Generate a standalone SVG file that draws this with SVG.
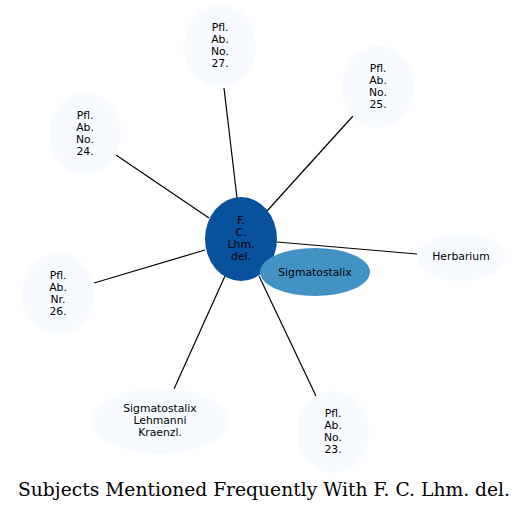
<svg xmlns="http://www.w3.org/2000/svg" width="528" height="511" viewBox="0 0 528 511">
<style>
.n text{font-family:"DejaVu Sans",sans-serif;font-size:10.8px;text-anchor:middle;fill:#000}
.leaf ellipse{fill:#f7fbff}
#edges line{stroke:#000;stroke-width:1.2}
.title{font-family:"DejaVu Serif",serif;font-size:18.7px;text-anchor:middle;fill:#000}
</style>
<rect width="528" height="511" fill="#fff"/>
<g id="edges">
<line x1="237" y1="198" x2="224" y2="88"/>
<line x1="267" y1="211" x2="353" y2="116"/>
<line x1="209" y1="218" x2="116" y2="155"/>
<line x1="277" y1="242" x2="417" y2="254"/>
<line x1="205" y1="250" x2="94" y2="283"/>
<line x1="225" y1="276" x2="174" y2="389"/>
<line x1="259" y1="276" x2="316" y2="396"/>
</g>
<g id="n27" class="n leaf"><ellipse cx="220" cy="46" rx="36" ry="41"/><text x="220" y="31">Pfl.</text><text x="220" y="43">Ab.</text><text x="220" y="55">No.</text><text x="220" y="67">27.</text></g>
<g id="n25" class="n leaf"><ellipse cx="378" cy="87" rx="36" ry="41"/><text x="378" y="72">Pfl.</text><text x="378" y="84">Ab.</text><text x="378" y="96">No.</text><text x="378" y="108">25.</text></g>
<g id="n24" class="n leaf"><ellipse cx="85" cy="134" rx="36" ry="41"/><text x="85" y="119">Pfl.</text><text x="85" y="131">Ab.</text><text x="85" y="143">No.</text><text x="85" y="155">24.</text></g>
<g id="nherb" class="n leaf"><ellipse cx="461" cy="257" rx="44" ry="24"/><text x="461" y="260">Herbarium</text></g>
<g id="n26" class="n leaf"><ellipse cx="58" cy="294" rx="36" ry="41"/><text x="58" y="279">Pfl.</text><text x="58" y="291">Ab.</text><text x="58" y="303">Nr.</text><text x="58" y="315">26.</text></g>
<g id="nslk" class="n leaf"><ellipse cx="160" cy="421" rx="68" ry="33"/><text x="160" y="412">Sigmatostalix</text><text x="160" y="424">Lehmanni</text><text x="160" y="436">Kraenzl.</text></g>
<g id="n23" class="n leaf"><ellipse cx="333" cy="432" rx="36" ry="41"/><text x="333" y="417">Pfl.</text><text x="333" y="429">Ab.</text><text x="333" y="441">No.</text><text x="333" y="453">23.</text></g>
<g id="ncenter" class="n"><ellipse cx="241" cy="239" rx="36" ry="42" fill="#08519c"/><text x="241" y="224">F.</text><text x="241" y="236">C.</text><text x="241" y="248">Lhm.</text><text x="241" y="260">del.</text></g>
<g id="nsig" class="n"><ellipse cx="315" cy="272" rx="55" ry="24" fill="#4292c6"/><text x="315" y="276">Sigmatostalix</text></g>
<text class="title" x="264" y="496">Subjects Mentioned Frequently With F. C. Lhm. del.</text>
</svg>
